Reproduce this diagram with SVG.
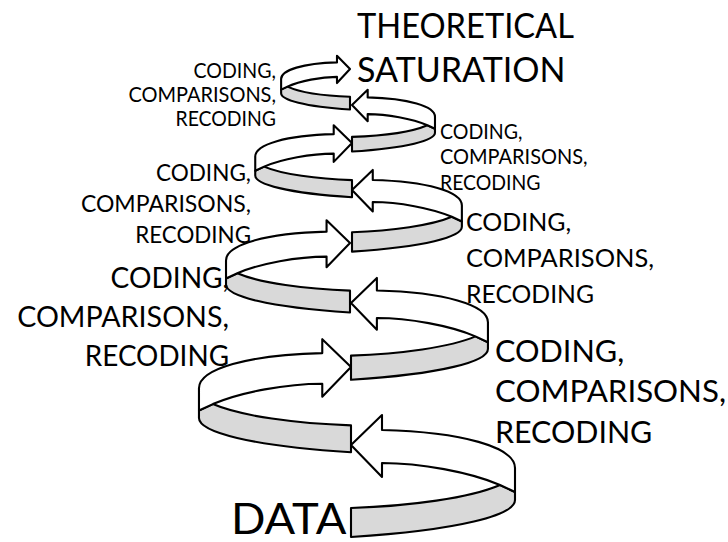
<svg xmlns="http://www.w3.org/2000/svg" xmlns:xlink="http://www.w3.org/1999/xlink" width="728" height="542" viewBox="0 0 728 542">
<style>
.rib{stroke:#000;stroke-width:2.1;stroke-linejoin:round;vector-effect:non-scaling-stroke}
.w{fill:#fff}
.g{fill:#d9d9d9}
text{font-family:Lato,"Open Sans","Liberation Sans",sans-serif;fill:#000}
.sa{font-size:20.2px}
.sc{font-size:23.3px}
.sd{font-size:29px}
.se{font-size:25.8px}
.sf{font-size:31.7px}
.st{font-size:34.3px}
.sx{font-size:43px}
</style>
<defs>
<g id="turn">
<path class="rib g" d="M0,63 C59,61 119,53 149,40 L164,47 L164,55 C164,70 109,85 0,92 Z"/>
<path class="rib w" d="M0,0 L31,-30 L31,-15 C111,-13 164,2 164,23 L164,47 L149,40 C119,27 69,18 31,18 L31,32 Z"/>
</g>
</defs>
<g id="connectors">
<g id="arrow1" transform="translate(351,445) scale(1)"><use xlink:href="#turn"/></g>
<g id="arrow2" transform="translate(351,367) scale(-0.927,0.927)"><use xlink:href="#turn"/></g>
<g id="arrow3" transform="translate(351,303) scale(0.835)"><use xlink:href="#turn"/></g>
<g id="arrow4" transform="translate(350,243) scale(-0.756,0.756)"><use xlink:href="#turn"/></g>
<g id="arrow5" transform="translate(352,190) scale(0.67)"><use xlink:href="#turn"/></g>
<g id="arrow6" transform="translate(352,143) scale(-0.59,0.59)"><use xlink:href="#turn"/></g>
<g id="arrow7" transform="translate(352,105) scale(0.506)"><use xlink:href="#turn"/></g>
<g id="arrow8" transform="translate(350,69) scale(-0.42,0.44)"><use xlink:href="#turn"/></g>
</g>
<g id="title">
<text class="st" x="357" y="38" textLength="216.9" lengthAdjust="spacingAndGlyphs">THEORETICAL</text>
<text class="st" x="357" y="82" textLength="208.5" lengthAdjust="spacingAndGlyphs">SATURATION</text>
</g>
<g id="data">
<text class="sx" x="231" y="534" textLength="115.3" lengthAdjust="spacingAndGlyphs">DATA</text>
</g>
<g id="labelA" text-anchor="end">
<text class="sa" x="276" y="78" textLength="82.5" lengthAdjust="spacingAndGlyphs">CODING,</text>
<text class="sa" x="276" y="102" textLength="147.6" lengthAdjust="spacingAndGlyphs">COMPARISONS,</text>
<text class="sa" x="276" y="126" textLength="100.5" lengthAdjust="spacingAndGlyphs">RECODING</text>
</g>
<g id="labelB">
<text class="sa" x="440" y="139" textLength="82.5" lengthAdjust="spacingAndGlyphs">CODING,</text>
<text class="sa" x="440" y="164" textLength="147.6" lengthAdjust="spacingAndGlyphs">COMPARISONS,</text>
<text class="sa" x="440" y="190" textLength="100.5" lengthAdjust="spacingAndGlyphs">RECODING</text>
</g>
<g id="labelC" text-anchor="end">
<text class="sc" x="251" y="181" textLength="95.1" lengthAdjust="spacingAndGlyphs">CODING,</text>
<text class="sc" x="251" y="212" textLength="170.1" lengthAdjust="spacingAndGlyphs">COMPARISONS,</text>
<text class="sc" x="251" y="243" textLength="115.8" lengthAdjust="spacingAndGlyphs">RECODING</text>
</g>
<g id="labelD" text-anchor="end">
<text class="sd" x="229" y="288" textLength="118.4" lengthAdjust="spacingAndGlyphs">CODING,</text>
<text class="sd" x="229" y="327" textLength="211.8" lengthAdjust="spacingAndGlyphs">COMPARISONS,</text>
<text class="sd" x="229" y="366" textLength="144.2" lengthAdjust="spacingAndGlyphs">RECODING</text>
</g>
<g id="labelE">
<text class="se" x="466" y="231" textLength="105.2" lengthAdjust="spacingAndGlyphs">CODING,</text>
<text class="se" x="466" y="267" textLength="188" lengthAdjust="spacingAndGlyphs">COMPARISONS,</text>
<text class="se" x="466" y="303" textLength="128" lengthAdjust="spacingAndGlyphs">RECODING</text>
</g>
<g id="labelF">
<text class="sf" x="495" y="362" textLength="129.2" lengthAdjust="spacingAndGlyphs">CODING,</text>
<text class="sf" x="495" y="402" textLength="231" lengthAdjust="spacingAndGlyphs">COMPARISONS,</text>
<text class="sf" x="495" y="443" textLength="157.3" lengthAdjust="spacingAndGlyphs">RECODING</text>
</g>
</svg>
